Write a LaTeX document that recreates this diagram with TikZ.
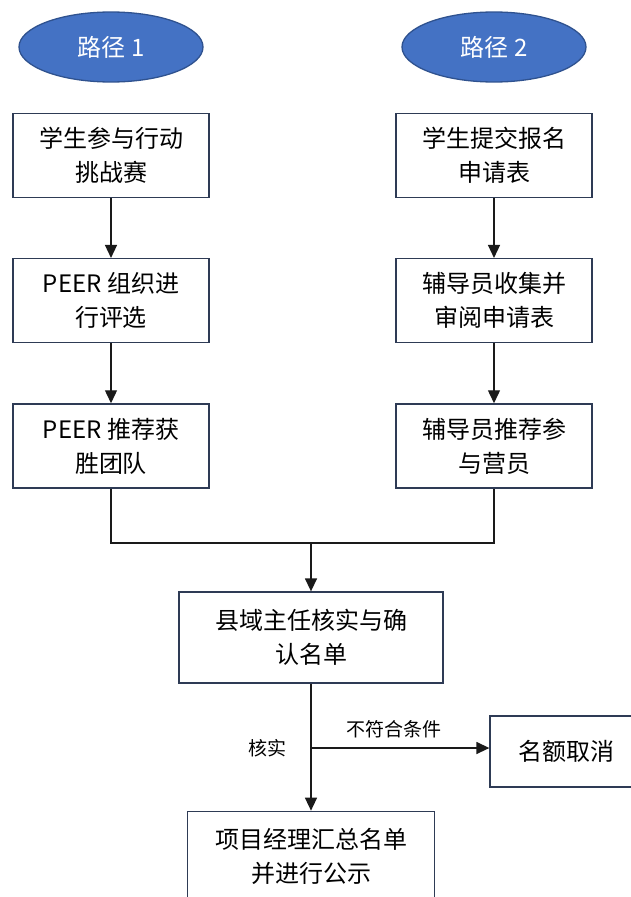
\documentclass[tikz,border=0pt]{standalone}
\usepackage{fontspec}
\setmainfont{Noto Sans CJK SC}
\usetikzlibrary{positioning,shapes.geometric,arrows.meta}
\definecolor{pathblue}{HTML}{4472C4}
\definecolor{pathrim}{HTML}{2F528F}
\definecolor{boxrim}{HTML}{2E3B55}
\definecolor{wire}{HTML}{1A1A1A}

\begin{document}
\begin{tikzpicture}[x=1pt,y=1pt,node distance=60pt,
    every node/.style={font=\fontsize{24}{34}\selectfont},
    stepbox/.style={draw=boxrim,line width=1.3pt,minimum width=196pt,minimum height=84pt,align=center,inner sep=0pt},
    pathnode/.style={ellipse,draw=pathrim,fill=pathblue,text=white,line width=1.3pt,minimum width=184pt,minimum height=70pt},
    lbl/.style={font=\fontsize{19}{22}\selectfont},
    ->,>={Triangle[length=13pt,width=12pt]},line width=1.4pt,draw=wire]
    \useasboundingbox (0,0) rectangle (631,-897);
    % two ways in
    \node (p1) [pathnode] at (111,-47) {路径 1};
    \node (p2) [pathnode] at (494,-47) {路径 2};
    \node (l1) [stepbox,below=30pt of p1] {学生参与行动\\挑战赛};
    \node (l2) [stepbox,below=of l1] {PEER 组织进\\行评选} edge[<-] (l1);
    \node (l3) [stepbox,below=of l2] {PEER 推荐获\\胜团队} edge[<-] (l2);
    \node (r1) [stepbox,below=30pt of p2] {学生提交报名\\申请表};
    \node (r2) [stepbox,below=of r1] {辅导员收集并\\审阅申请表} edge[<-] (r1);
    \node (r3) [stepbox,below=of r2] {辅导员推荐参\\与营员} edge[<-] (r2);
    % check and publish
    \node (check) [stepbox,minimum width=264pt,minimum height=91pt] at (311,-637.5) {县域主任核实与确\\认名单};
    \node (publish) [stepbox,minimum width=247pt,minimum height=90pt,below=127pt of check] {项目经理汇总名单\\并进行公示};
    \node (cancel) [stepbox,minimum width=152pt,minimum height=71pt] at (566,-751.5) {名额取消};
    \coordinate (join) at (check.north |- 0,-543);
    \coordinate (fork) at (check.south |- 0,-748);
    \draw[-] (l3.south) |- (join) -| (r3.south);
    \draw (join) -- (check);
    \draw (check) -- (publish);
    \draw (fork) -- (fork -| cancel.west);
    \node (fail) [lbl] at (394,-729) {不符合条件};
    \node (ok) [lbl] at (267,-748) {核实};
\end{tikzpicture}
\end{document}
